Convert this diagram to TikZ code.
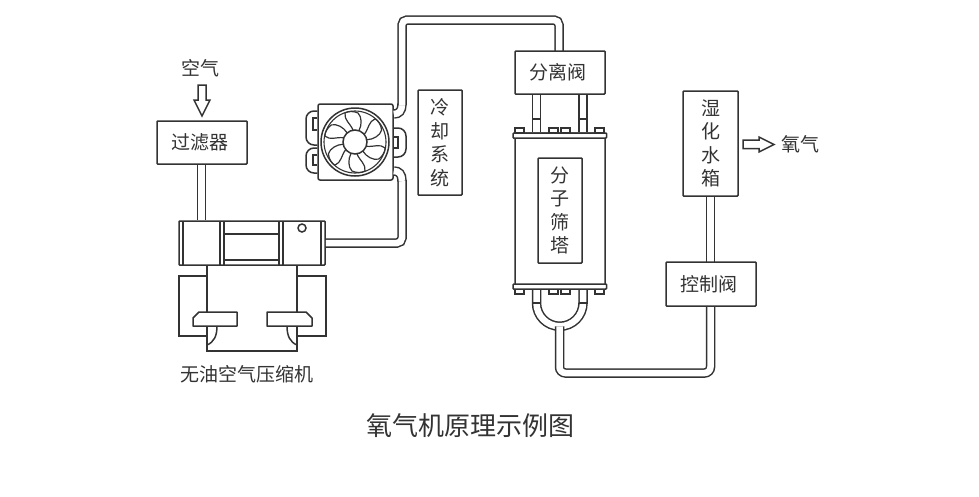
\documentclass[tikz,border=0pt]{standalone}
\usepackage{fontspec}
\setmainfont{Noto Sans CJK SC}
\definecolor{ink}{HTML}{333333}
\tikzset{
  ln/.style={draw=ink,line width=1.5pt},
  pipe/.style={draw=ink,line width=1.5pt,double=white,double distance=6.5pt},
  box/.style={ln,fill=white,rectangle,rounded corners=0.8pt,inner sep=0pt,text=ink,font=\fontsize{19}{23.5}\selectfont,align=center},
  lbl/.style={inner sep=0pt,text=ink,font=\fontsize{19}{23.5}\selectfont,align=center},
  solid white/.style={ln,fill=white}
}
\begin{document}
\begin{tikzpicture}[x=1pt,y=-1pt]
\useasboundingbox (0,0) rectangle (979,496);
\fill[white] (0,0) rectangle (979,496);

% coordinates of the pipe centre lines
\coordinate (pipeA) at (402,0);
\coordinate (pipeB) at (559,0);
\coordinate (pipeL) at (536.5,0);
\coordinate (pipeR) at (583,0);
\coordinate (pipeC) at (559.5,0);
\coordinate (pipeD) at (710.5,0);
\coordinate (pipeF) at (201.5,0);

% named nodes used as pipe ends (drawn in place, text added after the pipes)
\node[box,minimum width=90pt,minimum height=156pt] (tower) at (560,211) {};
\node[box,rounded corners=2pt,minimum width=75pt,minimum height=76pt] (fan) at (355.5,142) {};
\node[box,minimum width=146pt,minimum height=44pt] (comp) at (252,243) {};
\node[box,minimum width=44pt,minimum height=105pt] (cool) at (440,142.5) {冷\\却\\系\\统};
\node[box,minimum width=44pt,minimum height=105pt] (sieve) at (560,210.5) {分\\子\\筛\\塔};
\node[box,minimum width=55pt,minimum height=105pt] (humid) at (710.5,143.5) {湿\\化\\水\\箱};
\coordinate (filterS) at (201.5,164);
\coordinate (sepN) at (559,51);
\coordinate (sepS) at (560,94);
\coordinate (ctrlN) at (710.5,262);
\coordinate (ctrlS) at (710.5,306);

% pipes
\draw[pipe] (filterS) -- (comp.north -| filterS);
\draw[pipe,rounded corners=5pt] (comp.east |- 0,243) -- (402,243) -- (402,180);
\draw[pipe] (402,181) .. controls (402,174) and (399,171) .. (fan.east |- 0,171);
\draw[pipe] (fan.east |- 0,114) .. controls (399,114) and (402,111) .. (402,104);
\draw[pipe,rounded corners=5pt] (402,105) -- (402,20) -- (559,20) -- (sepN);
\draw[pipe] (humid.south) -- (ctrlN);
\draw[pipe] (sepS -| pipeL) -- (tower.north -| pipeL);
\draw[pipe] (sepS -| pipeR) -- (tower.north -| pipeR);
\draw[pipe] (tower.south -| pipeL) -- (536.5,303) arc[start angle=180,end angle=0,radius=23.25pt,y radius=-23.25pt] -- (tower.south -| pipeR);
\draw[pipe,rounded corners=6pt] (559.5,326.3) -- (559.5,373) -- (710.5,373) -- (ctrlS);

% cross bars on the tower pipes
\draw[ln] (532,119) -- (541,119) (578.5,119) -- (587.5,119);
\draw[ln] (532,303) -- (541,303) (578.5,303) -- (587.5,303);

% boxes that close the pipe ends
\node[box,minimum width=90pt,minimum height=43pt] (filter) at (202,142.5) {过滤器\kern5pt};
\node[box,minimum width=90pt,minimum height=43pt] (sep) at (560,72.5) {分离阀\kern5pt};
\node[box,minimum width=90pt,minimum height=44pt] (ctrl) at (711,284) {控制阀\kern5pt};

% compressor
\draw[ln] (183,221) -- (183,265) (220,221) -- (220,265) (224,221) -- (224,265)
          (279,221) -- (279,265) (283,221) -- (283,265) (321,221) -- (321,265);
\draw[ln] (224,234) -- (279,234) (224,260) -- (279,260);
\draw[ln] (302,228) circle[radius=4pt];
\draw[ln] (207,265) -- (207,351) -- (297,351) -- (297,265);
\draw[ln] (207,276) -- (179,276) -- (179,336) -- (207,336);
\draw[ln] (297,276) -- (326,276) -- (326,336) -- (297,336);
\draw[ln] (217,326) .. controls (217,336) and (214,342) .. (207,345);
\draw[ln] (287,326) .. controls (287,336) and (290,342) .. (297,345);
\draw[solid white,line join=round] (193,326) -- (193,318) -- (199,312) -- (237,312) -- (237,326) -- cycle;
\draw[solid white,line join=round] (267,326) -- (267,312) -- (306,312) -- (312,318) -- (312,326) -- cycle;

% fan
\begin{scope}[shift={(355,142)}]
  \draw[ln] (0,0) circle[radius=34pt];
  \draw[ln,line width=1.1pt] (0,0) circle[radius=31pt];
  \foreach \a in {0,60,...,300}{
    \begin{scope}[rotate=\a]
      \draw[ln,line width=1.2pt,line join=round] (-2,-12) .. controls (-5,-19) and (-11,-22) .. (-10,-29)
        .. controls (-7,-31) and (-1,-31) .. (3,-29)
        .. controls (7,-25) and (7,-17) .. (4,-11.5);
    \end{scope}
  }
  \draw[ln,fill=white] (0,0) circle[radius=12pt];
\end{scope}
\draw[ln,rounded corners=8pt] (fan.west |- 0,111) -- (306,111) -- (306,145) -- (fan.west |- 0,145);
\draw[ln,rounded corners=8pt] (fan.west |- 0,148) -- (306,148) -- (306,173) -- (fan.west |- 0,173);
\draw[ln] (fan.west |- 0,118) -- (313,118) -- (313,130) -- (fan.west |- 0,130);
\draw[ln] (fan.west |- 0,155) -- (313,155) -- (313,165) -- (fan.west |- 0,165);
\draw[ln,rounded corners=8pt] (fan.east |- 0,128) -- (406,128) -- (406,157) -- (fan.east |- 0,157);
\draw[ln] (fan.east |- 0,137) -- (398,137) -- (398,148) -- (fan.east |- 0,148);

% tower flanges and tabs
\foreach \x in {515,549,561,595}{
  \draw[solid white] (\x,128) rectangle ++(9,5);
  \draw[solid white] (\x,289) rectangle ++(9,5);
}
\draw[solid white,rounded corners=0.8pt] (513,133) rectangle (606.5,138);
\draw[solid white,rounded corners=0.8pt] (513,284) rectangle (606.5,289);

% air arrows
\draw[ln,line join=miter] (198,85) -- (206,85) -- (206,100) -- (210,100) -- (202,116) -- (194,100) -- (198,100) -- cycle;
\draw[ln,line join=miter] (743,140) -- (759,140) -- (759,137) -- (774,144.5) -- (759,152) -- (759,148.5) -- (743,148.5) -- cycle;

% labels
\node[lbl] (air) at (200,68) {空气};
\node[lbl] (oxy) at (800,144) {氧气};
\node[lbl] (cname) at (246.5,374.5) {无油空气压缩机};
\node[lbl,font=\fontsize{26}{30}\selectfont] (title) at (470,426) {氧气机原理示例图};
\end{tikzpicture}
\end{document}
